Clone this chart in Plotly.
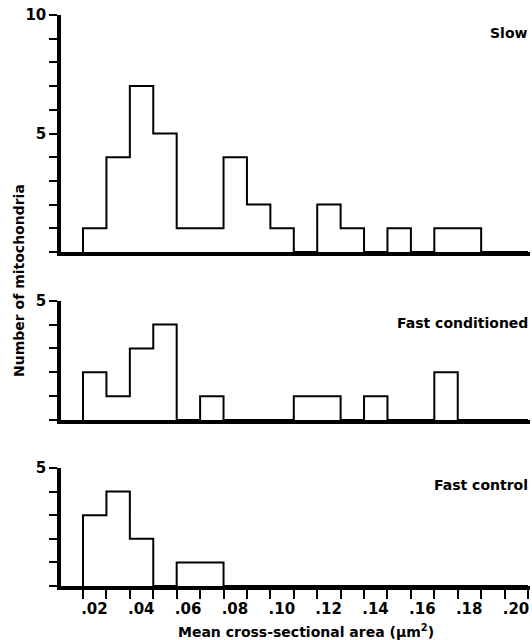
import plotly.graph_objects as go

# Bin edges (µm²), 0.01 wide
bin_edges = [0.01, 0.02, 0.03, 0.04, 0.05, 0.06, 0.07, 0.08, 0.09, 0.10,
             0.11, 0.12, 0.13, 0.14, 0.15, 0.16, 0.17, 0.18, 0.19, 0.20]
# counts per bin
slow = [1, 4, 7, 5, 1, 1, 4, 2, 1, 0, 2, 1, 0, 1, 0, 1, 1, 0, 0]
fast_conditioned = [2, 1, 3, 4, 0, 1, 0, 0, 0, 1, 1, 0, 1, 0, 0, 2, 0, 0, 0]
fast_control = [3, 4, 2, 0, 1, 1, 0, 0, 0, 0, 0, 0, 0, 0, 0, 0, 0, 0, 0]

panel_names = ["Slow", "Fast conditioned", "Fast control"]
x_tick_vals = [0.02, 0.04, 0.06, 0.08, 0.10, 0.12, 0.14, 0.16, 0.18, 0.20]
x_tick_text = [".02", ".04", ".06", ".08", ".10", ".12", ".14", ".16", ".18", ".20"]

W, H = 532, 640
FONT = "DejaVu Sans"

def py(p):
    return 1 - p / H

def step(counts):
    xs = [bin_edges[0]] + bin_edges + [bin_edges[-1]]
    ys = [0] + counts + [counts[-1], 0]
    return xs, ys

fig = go.Figure()
series = [slow, fast_conditioned, fast_control]
for i, c in enumerate(series):
    xs, ys = step(c)
    sfx = "" if i == 0 else str(i + 1)
    fig.add_trace(go.Scatter(x=xs, y=ys, mode="lines",
                             line=dict(color="black", width=2, shape="hv"),
                             xaxis="x" + sfx, yaxis="y" + sfx,
                             showlegend=False, hoverinfo="skip"))

xr = [0.01 - 22 / 2342, 0.20 + 2 / 2342]
xdom = [61 / W, 530 / W]
ydoms = [[py(252), py(15)], [py(420), py(300.7)], [py(586), py(468)]]
ymax = [10, 5, 5]
ytickv = [[5, 10], [5], [5]]

tickfont = dict(family=FONT, size=15, color="black", weight="bold")
layout = dict(width=W, height=H, margin=dict(l=0, r=0, t=0, b=0, pad=0),
              plot_bgcolor="white", paper_bgcolor="white", showlegend=False)

for i in range(3):
    sfx = "" if i == 0 else str(i + 1)
    xa = dict(domain=xdom, range=xr, anchor="y" + sfx, showgrid=False,
              zeroline=False, showline=True, linecolor="black", linewidth=3.5,
              fixedrange=True, automargin=False)
    if i == 2:
        xa.update(tickmode="array", tickvals=x_tick_vals, ticktext=x_tick_text,
                  ticks="outside", ticklen=9, tickwidth=2, tickcolor="black",
                  tickfont=tickfont, ticklabelshift=-12, ticklabelstandoff=-3,
                  minor=dict(tickmode="linear", tick0=0.01, dtick=0.02,
                             ticks="outside", ticklen=9, tickwidth=2,
                             tickcolor="black", showgrid=False))
    else:
        xa.update(showticklabels=False, ticks="")
    ya = dict(domain=ydoms[i], range=[0, ymax[i]], anchor="x" + sfx,
              showgrid=False, zeroline=False, showline=True, linecolor="black",
              linewidth=3.5, tickmode="array", tickvals=ytickv[i],
              ticktext=[str(v) for v in ytickv[i]], ticks="outside",
              ticklen=8, tickwidth=2, tickcolor="black", tickfont=tickfont,
              minor=dict(tickmode="linear", tick0=0, dtick=1, ticks="outside",
                         ticklen=8, tickwidth=2, tickcolor="black",
                         showgrid=False),
              fixedrange=True, automargin=False)
    layout["xaxis" + sfx] = xa
    layout["yaxis" + sfx] = ya

fig.update_layout(**layout)

label_y = [33, 323, 485]
for name, yy in zip(panel_names, label_y):
    fig.add_annotation(text=name, xref="paper", yref="paper", x=530 / W,
                       y=py(yy), xanchor="right", yanchor="middle",
                       showarrow=False,
                       font=dict(family=FONT, size=14, color="black",
                                 weight="bold"))

fig.add_annotation(text="Number of mitochondria", xref="paper", yref="paper",
                   x=19 / W, y=py(281), textangle=-90, showarrow=False,
                   xanchor="center", yanchor="middle",
                   font=dict(family=FONT, size=14, color="black", weight="bold"))
fig.add_annotation(text="Mean cross-sectional area (µm<sup>2</sup>)",
                   xref="paper", yref="paper", x=306 / W, y=py(631),
                   showarrow=False, xanchor="center", yanchor="middle",
                   font=dict(family=FONT, size=14, color="black", weight="bold"))

fig.write_html("out.html", config={"displayModeBar": False},
               post_script="document.body.style.margin='0';"
                           "document.body.style.padding='0';")
